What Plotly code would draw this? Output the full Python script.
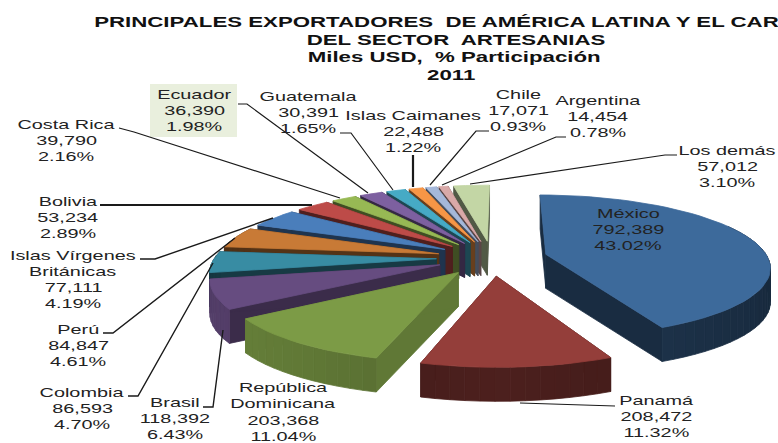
import math
import plotly.graph_objects as go

# ---- data ----
countries = ["México", "Panamá", "República|Dominicana", "Brasil", "Colombia", "Perú",
             "Islas Vírgenes|Británicas", "Bolivia", "Costa Rica", "Ecuador", "Guatemala",
             "Islas Caimanes", "Chile", "Argentina", "Los demás"]
values = [792389, 208472, 203368, 118392, 86593, 84847, 77111, 53234, 39790, 36390, 30391,
          22488, 17071, 14454, 57012]
percents = ["43.02%", "11.32%", "11.04%", "6.43%", "4.70%", "4.61%", "4.19%", "2.89%", "2.16%",
            "1.98%", "1.65%", "1.22%", "0.93%", "0.78%", "3.10%"]
title_lines = ["PRINCIPALES EXPORTADORES  DE AMÉRICA LATINA Y EL CAR", "DEL SECTOR  ARTESANIAS",
               "Miles USD,  % Participación", "2011"]

# ---- styling ----
top_colors = ["#3d6a9b", "#943e3a", "#7c9b46", "#664c80", "#388ca3", "#c87a36", "#4a7ebb", "#bd4b48",
              "#97b954", "#7d60a0", "#46aac5", "#f79646", "#a5b8da", "#d9a9a8", "#c3d6a5"]
radial_shade = [0.42, 0.42, 0.78, 0.58, 0.42, 0.42, 0.42, 0.42, 0.42, 0.42, 0.42, 0.42, 0.42, 0.42, 0.42]
draw_order = [14, 13, 12, 11, 10, 9, 8, 7, 6, 5, 4, 3, 0, 2, 1]
label_xy = [(628, 213), (656, 400), (283, 387.5), (175, 402), (82, 392), (78, 329), (73, 255), (68, 201),
            (66, 124), (194, 94), (308, 96), (413, 115), (518, 94), (598, 100), (727, 150)]
leaders = [None,
           [(615, 406), (520, 403)],
           None,
           [(203, 407), (213, 407), (223, 330)],
           [(128, 396), (138, 396), (213, 263)],
           [(103, 333), (113, 333), (235, 238)],
           [(140, 259), (155, 259), (273, 218)],
           [(100, 205), (312, 205)],
           [(119, 128), (134, 132), (340, 198)],
           [(238, 104), (247, 104), (368, 193)],
           [(340, 133), (351, 133), (393, 190)],
           [(413, 155), (413, 187)],
           [(489, 131), (476, 131), (430, 185)],
           [(566, 137), (556, 137), (442, 185)],
           [(677, 155), (665, 155), (470, 184)]]
leader_w = [0, 1.2, 0, 1.4, 1.4, 1.4, 1.4, 2, 1.2, 1.2, 1.2, 2.2, 1.2, 1.2, 1.2]
CX, CY = 492, 258
RX, RY, PERSP = 222, 70, 0.16
EXPLODE, DEPTH = 0.25, 34
START_DEG = 0.5
LABEL_STRETCH, TITLE_STRETCH = 1.47, 1.59
LINE_H = 16.3


def shade(hex_color, f):
    r, g, b = (int(hex_color[i:i + 2], 16) for i in (1, 3, 5))
    return f"rgb({int(r * f)},{int(g * f)},{int(b * f)})"


def project(u, v, drop=0.0):
    w = 1 + PERSP * v
    return CX + RX * u / w, CY - RY * v / w + drop


def poly(pts, color, traces):
    xs = [p[0] for p in pts] + [pts[0][0]]
    ys = [p[1] for p in pts] + [pts[0][1]]
    traces.append(go.Scatter(x=xs, y=ys, mode="lines", fill="toself", fillcolor=color,
                             line=dict(color=color, width=0.8), hoverinfo="skip", showlegend=False))


total = sum(values)
angles = [START_DEG]
for val in values:
    angles.append(angles[-1] + 360 * val / total)

traces = []
for i in draw_order:
    t0, t1 = math.radians(angles[i]), math.radians(angles[i + 1])
    mid = (t0 + t1) / 2
    ou, ov = EXPLODE * math.sin(mid), EXPLODE * math.cos(mid)
    n = max(3, int((angles[i + 1] - angles[i]) / 3))
    ts = [t0 + (t1 - t0) * k / n for k in range(n + 1)]
    ring = [(ou + math.sin(t), ov + math.cos(t)) for t in ts]
    col = top_colors[i]
    # radial walls
    for edge in (ring[0], ring[-1]):
        poly([project(ou, ov), project(*edge), project(*edge, DEPTH), project(ou, ov, DEPTH)],
             shade(col, radial_shade[i]), traces)
    # outer wall, banded
    for k in range(n):
        a, b = ring[k], ring[k + 1]
        if a[1] + b[1] > 1.0:
            continue
        tm = (ts[k] + ts[k + 1]) / 2
        f = 0.6 + 0.22 * math.cos(tm - math.radians(250)) if i in (2, 3) else 0.52 - 0.12 * abs(math.sin(tm))
        poly([project(*a), project(*b), project(*b, DEPTH), project(*a, DEPTH)], shade(col, f), traces)
    # top face
    poly([project(ou, ov)] + [project(*p) for p in ring], col, traces)

for path, lw in zip(leaders, leader_w):
    if path:
        traces.append(go.Scatter(x=[p[0] for p in path], y=[p[1] for p in path], mode="lines",
                                 line=dict(color="#1a1a1a", width=lw), hoverinfo="skip", showlegend=False))

fig = go.Figure(traces)
FONT = "Liberation Sans"
annots = []
for name, val, pct, (lx, ly) in zip(countries, values, percents, label_xy):
    for k, line in enumerate(name.split("|") + [f"{val:,}", pct]):
        annots.append(dict(x=lx, y=ly + LINE_H * k, xref="x", yref="y", xanchor="center", yanchor="middle",
                           showarrow=False, text=line,
                           font=dict(family=FONT, size=13.5, color="#222222")))
title_x = [436, 456, 454, 451]
title_ys = [22, 40, 57, 75]
for line, x, y in zip(title_lines, title_x, title_ys):
    annots.append(dict(x=x, y=y, xref="x", yref="y", xanchor="center", yanchor="middle", showarrow=False,
                       text=f"<b>{line}</b>", font=dict(family=FONT, size=14, color="#111111")))

fig.update_layout(width=778, height=443, margin=dict(l=0, r=0, t=0, b=0), paper_bgcolor="white",
                  plot_bgcolor="white", annotations=annots,
                  xaxis=dict(range=[0, 778], visible=False, fixedrange=True),
                  yaxis=dict(range=[443, 0], visible=False, fixedrange=True))
# Ecuador label highlight
fig.add_shape(type="rect", x0=150, x1=237, y0=84, y1=137, xref="x", yref="y", fillcolor="#e9efdd",
              line_width=0, layer="below")
post = """
document.body.style.margin = '0';
document.querySelectorAll('.annotation text').forEach(function (t) {
  var x = parseFloat(t.getAttribute('x') || 0);
  var s = t.querySelector('tspan[style*="bold"]') ? %s : %s;
  t.setAttribute('transform', 'translate(' + x + ',0) scale(' + s + ',1) translate(' + (-x) + ',0)');
});
""" % (TITLE_STRETCH, LABEL_STRETCH)
fig.write_html("out.html", config={"displayModeBar": False}, post_script=post)
